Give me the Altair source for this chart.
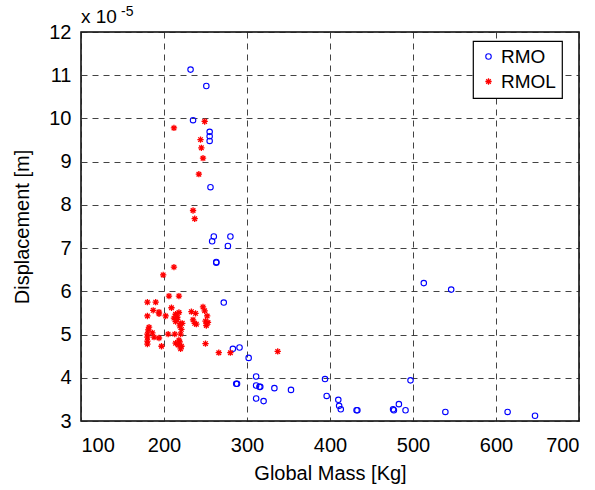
import altair as alt
import pandas as pd

# ---- data ----
series_names = ["RMO", "RMOL"]

rmo_mass = [232, 251, 235, 255, 255, 255, 256, 260, 258, 280, 277, 263, 263, 272,
            283, 291, 302, 311, 287, 288, 311, 315, 316, 333, 353, 311, 320, 513,
            546, 394, 497, 396, 410, 411, 413, 432, 433, 476, 477, 483, 491, 539,
            614, 647]
rmo_disp = [11.13, 10.75, 9.96, 9.69, 9.59, 9.48, 8.41, 7.27, 7.16, 7.27, 7.05, 6.68,
            6.66, 5.74, 4.67, 4.70, 4.46, 4.03, 3.86, 3.86, 3.82, 3.79, 3.79, 3.76,
            3.72, 3.52, 3.46, 6.19, 6.04, 3.97, 3.94, 3.58, 3.49, 3.35, 3.27, 3.25,
            3.25, 3.27, 3.25, 3.39, 3.25, 3.21, 3.21, 3.12]

rmol_mass = [249, 212, 244, 245, 247, 242, 235, 237, 212, 199, 206, 218, 180, 190,
             209, 247, 187, 194, 194, 202, 180, 233, 238, 249, 214, 218, 212, 216,
             214, 222, 219, 235, 237, 239, 250, 253, 251, 252, 182, 181, 180, 186,
             188, 194, 205, 213, 220, 221, 180, 180, 180, 197, 214, 217, 219, 221,
             220, 218, 250, 266, 280, 337, 216, 220]
rmol_disp = [9.93, 9.78, 9.51, 9.32, 9.08, 8.71, 7.87, 7.68, 6.56, 6.38, 5.89, 5.89,
             5.75, 5.75, 5.62, 5.64, 5.56, 5.52, 5.48, 5.43, 5.43, 5.53, 5.49, 5.55,
             5.47, 5.51, 5.38, 5.35, 5.30, 5.26, 5.20, 5.34, 5.26, 5.24, 5.31, 5.28,
             5.21, 5.43, 5.17, 5.11, 5.01, 5.04, 4.94, 4.92, 5.01, 5.01, 5.01, 5.12,
             4.94, 4.85, 4.78, 4.73, 4.80, 4.76, 4.83, 4.73, 4.67, 4.87, 4.79, 4.58,
             4.58, 4.61, 5.40, 5.25]

x_ticks = [100, 200, 300, 400, 500, 600, 700]
y_ticks = [3, 4, 5, 6, 7, 8, 9, 10, 11, 12]
exp_base = ["x 10"]
exp_power = ["-5"]

df = pd.concat([
    pd.DataFrame({"mass": rmo_mass, "disp": rmo_disp, "series": "RMO"}),
    pd.DataFrame({"mass": rmol_mass, "disp": rmol_disp, "series": "RMOL"}),
], ignore_index=True)

FONT = "Liberation Sans"
star = "M-1,0L1,0M0,-1L0,1M-0.72,-0.72L0.72,0.72M-0.72,0.72L0.72,-0.72"

legend = alt.Legend(title=None, orient="none", legendX=392, legendY=9)

points = alt.Chart(df).mark_point(filled=False, opacity=1).encode(
    x=alt.X("mass:Q",
            scale=alt.Scale(domain=[100, 700], nice=False, zero=False),
            axis=alt.Axis(values=x_ticks, title="Global Mass [Kg]", titleX=249,
                          titleY=58, titleBaseline="alphabetic", titleAlign="center",
                          labelPadding=14, labelBaseline="top")),
    y=alt.Y("disp:Q",
            scale=alt.Scale(domain=[3, 12], nice=False, zero=False),
            axis=alt.Axis(values=y_ticks, title="Displacement [m]", titleAngle=270,
                          titleX=-53, titleY=194.5, titleBaseline="alphabetic",
                          titleAlign="center", labelPadding=10)),
    color=alt.Color("series:N",
                    scale=alt.Scale(domain=series_names, range=["#0000ff", "#ff0000"]),
                    legend=legend),
    shape=alt.Shape("series:N",
                    scale=alt.Scale(domain=series_names, range=["circle", star]),
                    legend=legend),
    size=alt.Size("series:N",
                  scale=alt.Scale(domain=series_names, range=[30, 40]),
                  legend=None),
    strokeWidth=alt.StrokeWidth("series:N",
                                scale=alt.Scale(domain=series_names, range=[1.1, 1.3]),
                                legend=None),
)

exp1 = alt.Chart(pd.DataFrame({"t": exp_base})).mark_text(
    align="left", baseline="alphabetic", fontSize=19, font=FONT, color="black"
).encode(x=alt.value(0), y=alt.value(-9), text="t:N")

exp2 = alt.Chart(pd.DataFrame({"t": exp_power})).mark_text(
    align="left", baseline="alphabetic", fontSize=14, font=FONT, color="black"
).encode(x=alt.value(40), y=alt.value(-16), text="t:N")

chart = alt.layer(points, exp1, exp2).properties(
    width=498, height=389,
    autosize=alt.AutoSizeParams(type="none"),
    padding={"left": 81, "top": 32, "right": 16, "bottom": 69},
    background="white",
).configure_view(
    stroke="black", strokeWidth=1.5
).configure_axis(
    domain=False, ticks=False, tickSize=0,
    grid=True, gridColor="#222222", gridDash=[6, 5], gridWidth=1, gridOpacity=0.85,
    labelFont=FONT, labelFontSize=20, labelColor="black",
    titleFont=FONT, titleFontSize=20, titleFontWeight="normal", titleColor="black",
).configure_legend(
    strokeColor="black", strokeWidth=1.2, fillColor="white", padding=6,
    labelFont=FONT, labelFontSize=19, labelColor="black", rowPadding=5,
    symbolSize=14, symbolStrokeWidth=1.2, labelOffset=3, cornerRadius=0,
)

chart.save("out.html", embed_options={"renderer": "svg", "actions": False})
